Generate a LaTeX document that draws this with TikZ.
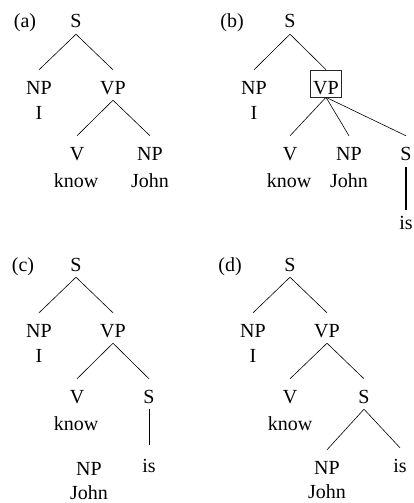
\documentclass[tikz,border=0pt]{standalone}
\usepackage{fontspec}
\setmainfont{Liberation Serif}
\newcommand{\tfont}{\fontsize{20pt}{24pt}\selectfont}
\begin{document}
\begin{tikzpicture}[x=1pt, y=-1pt,
  cat/.style={anchor=base, inner sep=0pt, text height=24pt, text depth=6pt, font=\tfont},
  word/.style={anchor=base, inner sep=0pt, font=\tfont},
  boxcat/.style={anchor=base, draw=black!85, line width=0.6pt, inner xsep=2.5pt, inner ysep=0pt, text height=24pt, text depth=3pt, font=\tfont},
  edge/.style={line width=0.6pt},
  thickedge/.style={line width=1.4pt},
  midedge/.style={line width=1pt}]
\useasboundingbox (0,0) rectangle (414,503);
% (a)
\node[word] (alab) at (25,28) {(a)};
\node[cat] (aS) at (76,28) {S};
\node[cat] (aNP) at (39,94) {NP};
\node[word] (aI) at (39,119) {I};
\node[cat] (aVP) at (113,94) {VP};
\node[cat] (aV) at (77,160) {V};
\node[word] (aknow) at (76,187) {know};
\node[cat] (aNPb) at (150,160) {NP};
\node[word] (aJohn) at (150,187) {John};
\draw[edge] (aS.south) -- (aNP.north);
\draw[edge] (aS.south) -- (aVP.north);
\draw[edge] (aVP.south) -- (aV.north);
\draw[edge] (aVP.south) -- (aNPb.north);
% (b)
\node[word] (blab) at (232,28) {(b)};
\node[cat] (bS) at (290,28) {S};
\node[cat] (bNP) at (254,94) {NP};
\node[word] (bI) at (254,119) {I};
\node[boxcat] (bVP) at (326,94) {VP};
\node[cat] (bV) at (290,160) {V};
\node[word] (bknow) at (289,187) {know};
\node[cat] (bNPb) at (349,160) {NP};
\node[word] (bJohn) at (349,187) {John};
\node[cat] (bSb) at (406,160) {S};
\node[cat] (bis) at (406,229) {is};
\draw[edge] (bS.south) -- (bNP.north);
\draw[edge] (bS.south) -- (bVP.north);
\draw[edge] (bVP.south) -- (bV.north);
\draw[edge] (bVP.south) -- (bNPb.north);
\draw[edge] (bVP.south) -- (bSb.north);
\draw[thickedge, shorten <=1pt, shorten >=-5pt] (bSb.south) -- (bis.north);
% (c)
\node[word] (clab) at (23,271) {(c)};
\node[cat] (cS) at (76,271) {S};
\node[cat] (cNP) at (39,337) {NP};
\node[word] (cI) at (39,362) {I};
\node[cat] (cVP) at (113,337) {VP};
\node[cat] (cV) at (77,403) {V};
\node[word] (cknow) at (76,430) {know};
\node[cat] (cSb) at (149,403) {S};
\node[cat] (cis) at (149,472) {is};
\node[word] (cNPb) at (89,475) {NP};
\node[word] (cJohn) at (89,499) {John};
\draw[edge] (cS.south) -- (cNP.north);
\draw[edge] (cS.south) -- (cVP.north);
\draw[edge] (cVP.south) -- (cV.north);
\draw[edge] (cVP.south) -- (cSb.north);
\draw[midedge, shorten >=3pt] (cSb.south) -- (cis.north);
% (d)
\node[word] (dlab) at (230,271) {(d)};
\node[cat] (dS) at (290,271) {S};
\node[cat] (dNP) at (253,337) {NP};
\node[word] (dI) at (253,362) {I};
\node[cat] (dVP) at (327,337) {VP};
\node[cat] (dV) at (290,403) {V};
\node[word] (dknow) at (290,430) {know};
\node[cat] (dSb) at (364,403) {S};
\node[cat] (dNPb) at (327,474) {NP};
\node[cat] (dis) at (400,472) {is};
\node[word] (dJohn) at (327,498) {John};
\draw[edge] (dS.south) -- (dNP.north);
\draw[edge] (dS.south) -- (dVP.north);
\draw[edge] (dVP.south) -- (dV.north);
\draw[edge] (dVP.south) -- (dSb.north);
\draw[edge] (dSb.south) -- (dNPb.north);
\draw[edge] (dSb.south) -- (dis.north);
\end{tikzpicture}
\end{document}
